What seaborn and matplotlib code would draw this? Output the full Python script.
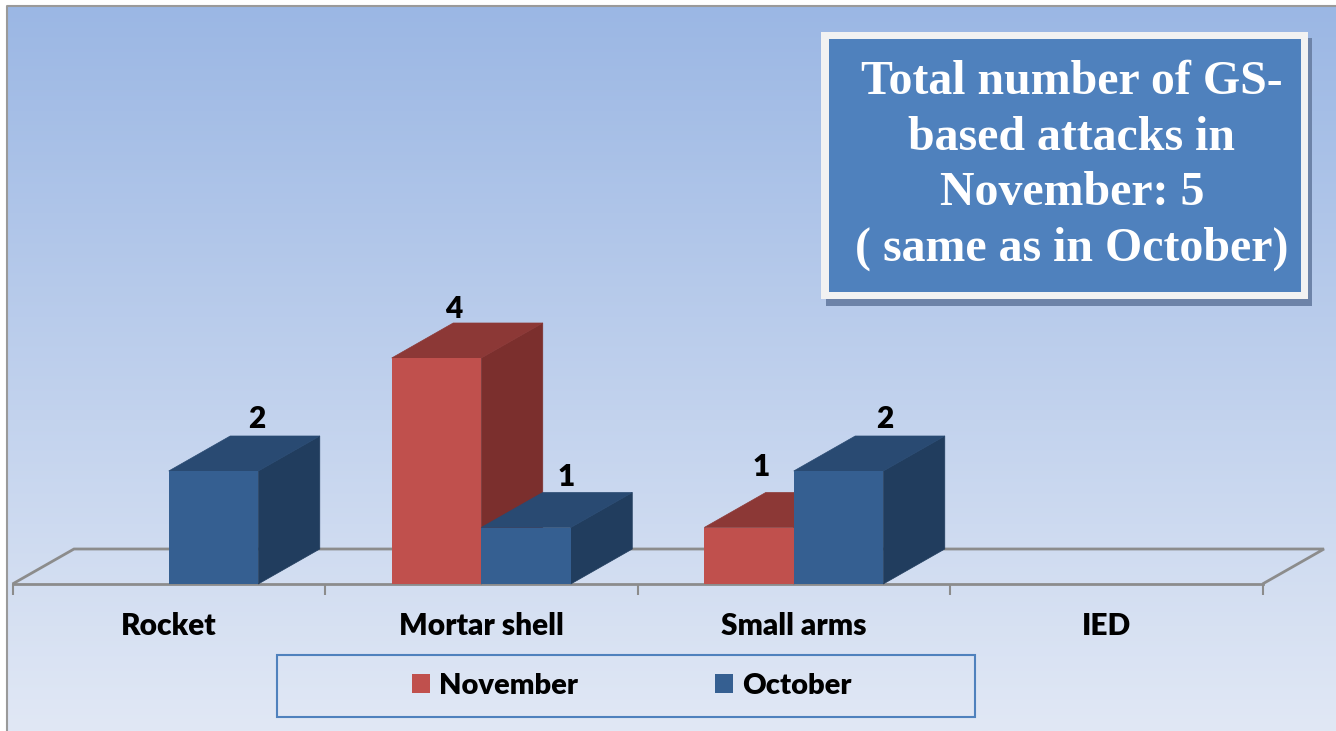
import numpy as np
import pandas as pd
import seaborn as sns
import matplotlib.pyplot as plt
from matplotlib.patches import Rectangle, Polygon
from matplotlib.lines import Line2D

categories = ["Rocket", "Mortar shell", "Small arms", "IED"]
november = [0, 4, 1, 0]
october = [2, 1, 2, 0]
months = ["November", "October"]
title_text = "Total number of GS-\nbased attacks in\nNovember: 5\n( same as in October)"

W, H = 1336, 731
front = {"November": "#c0504d", "October": "#355f91"}
side = {"November": "#7b2f2d", "October": "#213d5e"}
top = {"November": "#8c3836", "October": "#294a72"}
grey = "#8c8c8c"
depth_x, depth_y = 61.5 / 312.5, 35 / 56.5  # depth of the fake 3d, in data units
# label nudges in px, the labels do not sit regularly in the original
nudge = {("October", 0): (43, 52), ("November", 1): (17, 49), ("October", 1): (40, 50),
         ("November", 2): (12, 61), ("October", 2): (46, 52)}

sns.set_theme(style="white")
plt.rcParams["font.family"] = ["Lato", "DejaVu Sans"]


def fx(x):
    return x / W


def fy(y):
    return 1 - y / H


def box(x0, y0, x1, y1, **kw):
    fig.add_artist(Rectangle((fx(x0), fy(y1)), (x1 - x0) / W, (y1 - y0) / H,
                             transform=fig.transFigure, **kw))


df = pd.DataFrame({
    "category": categories * 2,
    "count": november + october,
    "month": ["November"] * 4 + ["October"] * 4,
})

fig = plt.figure(figsize=(W / 100, H / 100), dpi=100, facecolor="white")

# background gradient
bg = fig.add_axes([fx(7), 0, 1 - fx(7), fy(6)], zorder=-1)
grad = np.linspace(0, 1, 256)[:, None, None]
c0 = np.array([155, 183, 228]) / 255
c1 = np.array([225, 232, 245]) / 255
bg.imshow(c0 + (c1 - c0) * grad, aspect="auto")
bg.axis("off")
fig.add_artist(Line2D([fx(7), fx(7), 1], [0, fy(6), fy(6)], color="#9a9a9a", lw=1.5,
                      transform=fig.transFigure))

# 5 units = 282.5 px above the floor line
ax = fig.add_axes([fx(12.5), fy(584), (1262 - 12) / W, 282.5 / H], zorder=1)
ax.patch.set_alpha(0)
sns.barplot(data=df, x="category", y="count", hue="month", hue_order=months, order=categories,
            palette=front, saturation=1, width=0.573, gap=0, linewidth=0, ax=ax)
handles, labels = ax.get_legend_handles_labels()
ax.legend_.remove()

ax.set_xlim(-0.5, 3.5)
ax.set_ylim(0, 5)
ax.set_xlabel("")
ax.set_ylabel("")
ax.set_yticks([])
sns.despine(ax=ax, left=True)
ax.spines["bottom"].set_color(grey)
ax.spines["bottom"].set_linewidth(2)
ax.set_xticks(np.arange(-0.5, 4), minor=True)
ax.tick_params(axis="x", which="major", length=0, pad=20.5)
ax.tick_params(axis="x", which="minor", length=8, width=1.5, color=grey, bottom=True)
for t in ax.get_xticklabels():
    t.set_fontsize(21.5)
    t.set_fontweight("heavy")
    t.set_color("black")

# floor
floor = [(-0.5, 0), (-0.5 + depth_x, depth_y), (3.5 + depth_x, depth_y), (3.5, 0)]
ax.add_patch(Polygon(floor, closed=False, fill=False, edgecolor=grey, lw=2, clip_on=False, zorder=1))

# depth faces and value labels on the seaborn bars
for m, month in enumerate(months):
    for i, bar in enumerate(ax.containers[m]):
        h = bar.get_height()
        if h == 0:
            bar.set_visible(False)
            continue
        x0, x1 = bar.get_x(), bar.get_x() + bar.get_width()
        z = 3 + i + m * 0.5
        bar.set_zorder(z + 0.2)
        ax.add_patch(Polygon([(x1, 0), (x1 + depth_x, depth_y), (x1 + depth_x, h + depth_y), (x1, h)],
                             facecolor=side[month], edgecolor=side[month], lw=0.5, clip_on=False, zorder=z))
        ax.add_patch(Polygon([(x0, h), (x0 + depth_x, h + depth_y), (x1 + depth_x, h + depth_y), (x1, h)],
                             facecolor=top[month], edgecolor=top[month], lw=0.5, clip_on=False, zorder=z + 0.1))
        dx, dy = nudge[(month, i)]
        ax.annotate(str(h if h % 1 else int(h)), ((x0 + x1) / 2, h), xytext=(dx, dy),
                    textcoords=("offset pixels"), ha="center", va="center", fontsize=21.5,
                    fontweight="heavy", color="black", zorder=20, annotation_clip=False)

# legend
box(277, 655, 975, 717, facecolor="none", edgecolor="#4f81bd", lw=1.5, zorder=5)
fig.legend(handles, labels, loc="center", bbox_to_anchor=(fx(632), fy(686)), ncol=2, frameon=False,
           prop={"family": "Lato", "weight": "heavy", "size": 21}, handlelength=0.62, handleheight=0.62,
           handletextpad=0.31, columnspacing=4.7, borderpad=0, labelcolor="black")

# title box
box(826, 38, 1312, 306, facecolor="#6d83a8", edgecolor="none", zorder=5)
box(821, 32, 1308, 299, facecolor="#f2f2f2", edgecolor="none", zorder=6)
box(829, 39, 1301, 292, facecolor="#4f81bd", edgecolor="none", zorder=7)
fig.text(fx(1072), fy(165.5), title_text, ha="center", va="center", color="white", fontsize=34.5,
         fontweight="bold", family="Liberation Serif", linespacing=1.33, zorder=8)

fig.savefig("out.png", dpi=100)
